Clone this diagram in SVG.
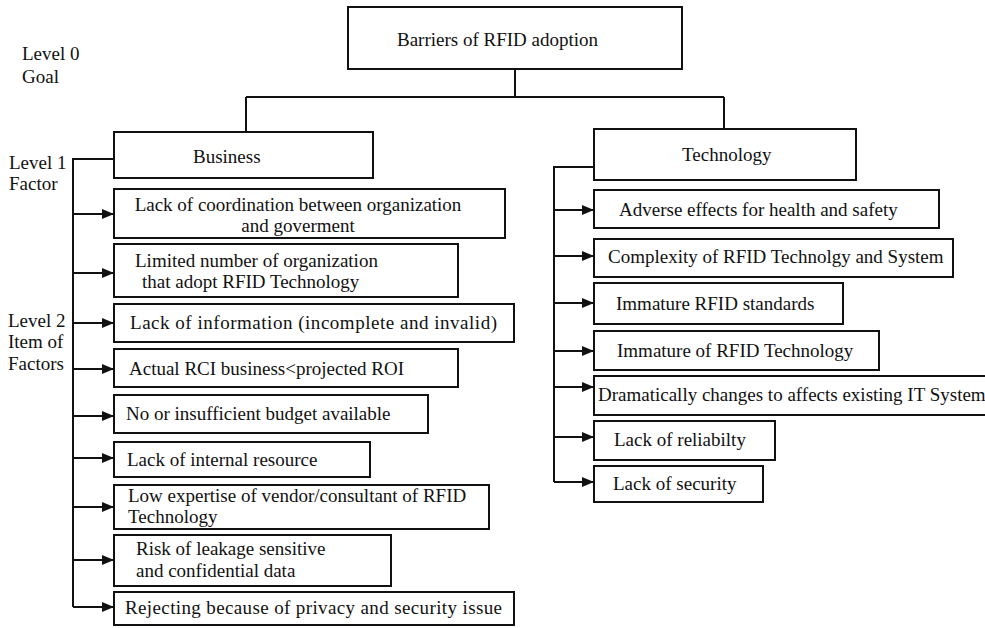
<svg xmlns="http://www.w3.org/2000/svg" width="985" height="628" viewBox="0 0 985 628">
<style>
.box{fill:#fff;stroke:#111;stroke-width:2}
.t{font-family:"Liberation Serif","Times New Roman",serif;font-size:19px;fill:#111}
.c{stroke:#111;stroke-width:2;fill:none}
.a{stroke:#111;stroke-width:2;fill:none;marker-end:url(#ah)}
</style>
<defs>
<marker id="ah" markerUnits="userSpaceOnUse" markerWidth="13" markerHeight="11" refX="12" refY="5" orient="auto">
<path d="M0,0 L12,5 L0,10 Z" fill="#111"/>
</marker>
</defs>
<rect width="985" height="628" fill="#fff"/>
<g id="labels">
<text class="t" x="22" y="60">Level 0</text>
<text class="t" x="22" y="83">Goal</text>
<text class="t" x="9" y="169">Level 1</text>
<text class="t" x="9" y="190">Factor</text>
<text class="t" x="8" y="327">Level 2</text>
<text class="t" x="8" y="348">Item of</text>
<text class="t" x="8" y="370">Factors</text>
</g>
<g id="connectors">
<path class="c" d="M515,69 V97 M246,97 H724 M246,97 V132 M724,97 V129"/>
<path class="c" d="M114,159 H73 V607"/>
<path class="a" d="M73,214 H114"/>
<path class="a" d="M73,273 H114"/>
<path class="a" d="M73,323 H114"/>
<path class="a" d="M73,369 H114"/>
<path class="a" d="M73,416 H114"/>
<path class="a" d="M73,458 H114"/>
<path class="a" d="M73,507 H114"/>
<path class="a" d="M73,560 H114"/>
<path class="a" d="M73,607 H114"/>
<path class="c" d="M594,167 H554 V482"/>
<path class="a" d="M554,210 H594"/>
<path class="a" d="M554,256 H594"/>
<path class="a" d="M554,303 H594"/>
<path class="a" d="M554,351 H594"/>
<path class="a" d="M554,387 H594"/>
<path class="a" d="M554,437 H594"/>
<path class="a" d="M554,482 H594"/>
</g>
<g id="goal">
<rect class="box" x="348" y="7" width="334" height="62"/>
<text class="t" x="397" y="46">Barriers of RFID adoption</text>
</g>
<g id="business">
<rect class="box" x="114" y="132" width="259" height="46"/>
<text class="t" x="193" y="163">Business</text>
</g>
<g id="technology">
<rect class="box" x="594" y="129" width="262" height="51"/>
<text class="t" x="682" y="161">Technology</text>
</g>
<g id="b1">
<rect class="box" x="114" y="189" width="391" height="49"/>
<text class="t" x="298" y="211" text-anchor="middle">Lack of coordination between organization</text>
<text class="t" x="298" y="232" text-anchor="middle">and goverment</text>
</g>
<g id="b2">
<rect class="box" x="114" y="244" width="344" height="53"/>
<text class="t" x="135" y="267">Limited number of organization</text>
<text class="t" x="142" y="288">that adopt RFID Technology</text>
</g>
<g id="b3">
<rect class="box" x="114" y="304" width="400" height="38"/>
<text class="t" x="130" y="329" textLength="367" lengthAdjust="spacing">Lack of information (incomplete and invalid)</text>
</g>
<g id="b4">
<rect class="box" x="114" y="349" width="344" height="38"/>
<text class="t" x="129" y="375">Actual RCI business&lt;projected ROI</text>
</g>
<g id="b5">
<rect class="box" x="114" y="395" width="314" height="38"/>
<text class="t" x="126" y="420">No or insufficient budget available</text>
</g>
<g id="b6">
<rect class="box" x="114" y="442" width="256" height="35"/>
<text class="t" x="127" y="466">Lack of internal resource</text>
</g>
<g id="b7">
<rect class="box" x="114" y="485" width="375" height="44"/>
<text class="t" x="128" y="502">Low expertise of vendor/consultant of RFID</text>
<text class="t" x="128" y="523">Technology</text>
</g>
<g id="b8">
<rect class="box" x="114" y="535" width="277" height="51"/>
<text class="t" x="136" y="555">Risk of leakage sensitive</text>
<text class="t" x="136" y="577">and confidential data</text>
</g>
<g id="b9">
<rect class="box" x="114" y="592" width="400" height="33"/>
<text class="t" x="125" y="614" textLength="377" lengthAdjust="spacing">Rejecting because of privacy and security issue</text>
</g>
<g id="t1">
<rect class="box" x="594" y="190" width="345" height="38"/>
<text class="t" x="619" y="216">Adverse effects for health and safety</text>
</g>
<g id="t2">
<rect class="box" x="594" y="239" width="359" height="38"/>
<text class="t" x="608" y="263">Complexity of RFID Technolgy and System</text>
</g>
<g id="t3">
<rect class="box" x="594" y="283" width="249" height="41"/>
<text class="t" x="616" y="310">Immature RFID standards</text>
</g>
<g id="t4">
<rect class="box" x="594" y="331" width="285" height="39"/>
<text class="t" x="617" y="357">Immature of RFID Technology</text>
</g>
<g id="t5">
<rect class="box" x="594" y="376" width="400" height="39"/>
<text class="t" x="598" y="401">Dramatically changes to affects existing IT System</text>
</g>
<g id="t6">
<rect class="box" x="594" y="421" width="181" height="39"/>
<text class="t" x="614" y="446">Lack of reliabilty</text>
</g>
<g id="t7">
<rect class="box" x="594" y="466" width="169" height="36"/>
<text class="t" x="613" y="490">Lack of security</text>
</g>
</svg>
